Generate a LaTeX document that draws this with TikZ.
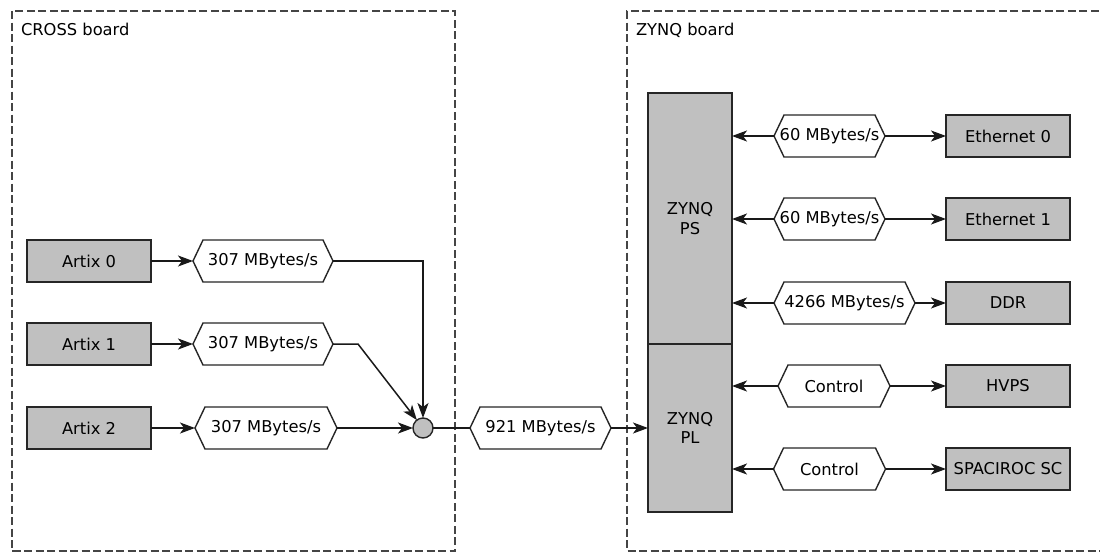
\documentclass[tikz,border=0pt]{standalone}
\usepackage{fontspec}
\setmainfont{DejaVu Sans}
\usetikzlibrary{arrows.meta,backgrounds,calc}
\definecolor{boxgray}{HTML}{C0C0C0}
\definecolor{dashgray}{HTML}{454545}
\begin{document}
\begin{tikzpicture}[x=1pt,y=-1pt,
  font=\fontsize{16.3}{19.5}\selectfont,
  every node/.style={inner sep=0pt, outer sep=0pt},
  blk/.style={draw=black!85, fill=boxgray, line width=1.4pt, minimum width=124pt, minimum height=42pt},
  zbox/.style={draw=black!85, fill=boxgray, line width=1.4pt, minimum width=84pt, align=center},
  hexa/.style={rectangle, minimum height=42pt},
  board/.style={draw=dashgray, line width=1.5pt, dash pattern=on 8pt off 3.5pt},
  conn/.style={draw=black!90, line width=1.5pt},
  arr/.style={conn, -{Stealth[length=15pt,width=11pt,inset=4pt]}},
  jn/.style={circle, draw=black!85, fill=boxgray, line width=1.4pt, minimum size=20pt}
]
\useasboundingbox (0,0) rectangle (1100,552);
\clip (0,0) rectangle (1100,552);

% boards
\draw[board] (12,11) rectangle (455,551);
\draw[board] (1110,11) -- (627,11) -- (627,551) -- (1110,551);
\node[anchor=base west] (lcross) at (21,35) {CROSS board};
\node[anchor=base west] (lzynq) at (636,35) {ZYNQ board};

% left blocks
\node[blk] (a0) at (89,261) {Artix 0};
\node[blk] (a1) at (89,344) {Artix 1};
\node[blk] (a2) at (89,428) {Artix 2};

% hex labels
\node[hexa, minimum width=140pt] (h0) at (263,261) {307 MBytes/s};
\node[hexa, minimum width=140pt] (h1) at (263,344) {307 MBytes/s};
\node[hexa, minimum width=142pt] (h2) at (266,428) {307 MBytes/s};
\node[hexa, minimum width=141pt] (h9) at (540.5,428) {921 MBytes/s};
\node[hexa, minimum width=111pt] (e0h) at (829.5,136) {60 MBytes/s};
\node[hexa, minimum width=111pt] (e1h) at (829.5,219) {60 MBytes/s};
\node[hexa, minimum width=141pt] (ddh) at (844.5,303) {4266 MBytes/s};
\node[hexa, minimum width=112pt] (hvh) at (834,386) {Control};
\node[hexa, minimum width=112pt] (sph) at (829.5,469) {Control};

\begin{scope}[on background layer]
\foreach \n in {h0,h1,h2,h9,e0h,e1h,ddh,hvh,sph}{
  \draw[draw=black!85, fill=white, line width=1.4pt, line join=miter]
    (\n.west) -- ([xshift=10pt]\n.north west) -- ([xshift=-10pt]\n.north east)
    -- (\n.east) -- ([xshift=-10pt]\n.south east) -- ([xshift=10pt]\n.south west) -- cycle;
}
\end{scope}

% junction
\node[jn] (j) at (423,428) {};
\coordinate (k1) at (358,344);

% ZYNQ
\node[zbox, minimum height=251pt] (ps) at (690,218.5) {ZYNQ\\PS};
\node[zbox, minimum height=168pt] (pl) at (690,428) {ZYNQ\\PL};

% right blocks
\node[blk] (eth0) at (1008,136) {Ethernet 0};
\node[blk] (eth1) at (1008,219) {Ethernet 1};
\node[blk] (ddr) at (1008,303) {DDR};
\node[blk] (hvps) at (1008,386) {HVPS};
\node[blk] (spc) at (1008,469) {SPACIROC SC};

% connectors left
\draw[arr] (a0) -- (h0);
\draw[arr] (a1) -- (h1);
\draw[arr] (a2) -- (h2);
\draw[arr] (h0.east) -| (j.north);
\draw[arr] (h1.east) -- (k1) -- (j);
\draw[arr] (h2.east) -- (j.west);
\draw[conn] (j.east) -- (h9.west);
\draw[arr] (h9.east) -- (pl.west);

% connectors right
\foreach \h/\b in {e0h/eth0,e1h/eth1,ddh/ddr}{
  \draw[arr] (\h.west) -- (\h.west -| ps.east);
  \draw[arr] (\h.east) -- (\b.west);
}
\foreach \h/\b in {hvh/hvps,sph/spc}{
  \draw[arr] (\h.west) -- (\h.west -| pl.east);
  \draw[arr] (\h.east) -- (\b.west);
}
\end{tikzpicture}
\end{document}
